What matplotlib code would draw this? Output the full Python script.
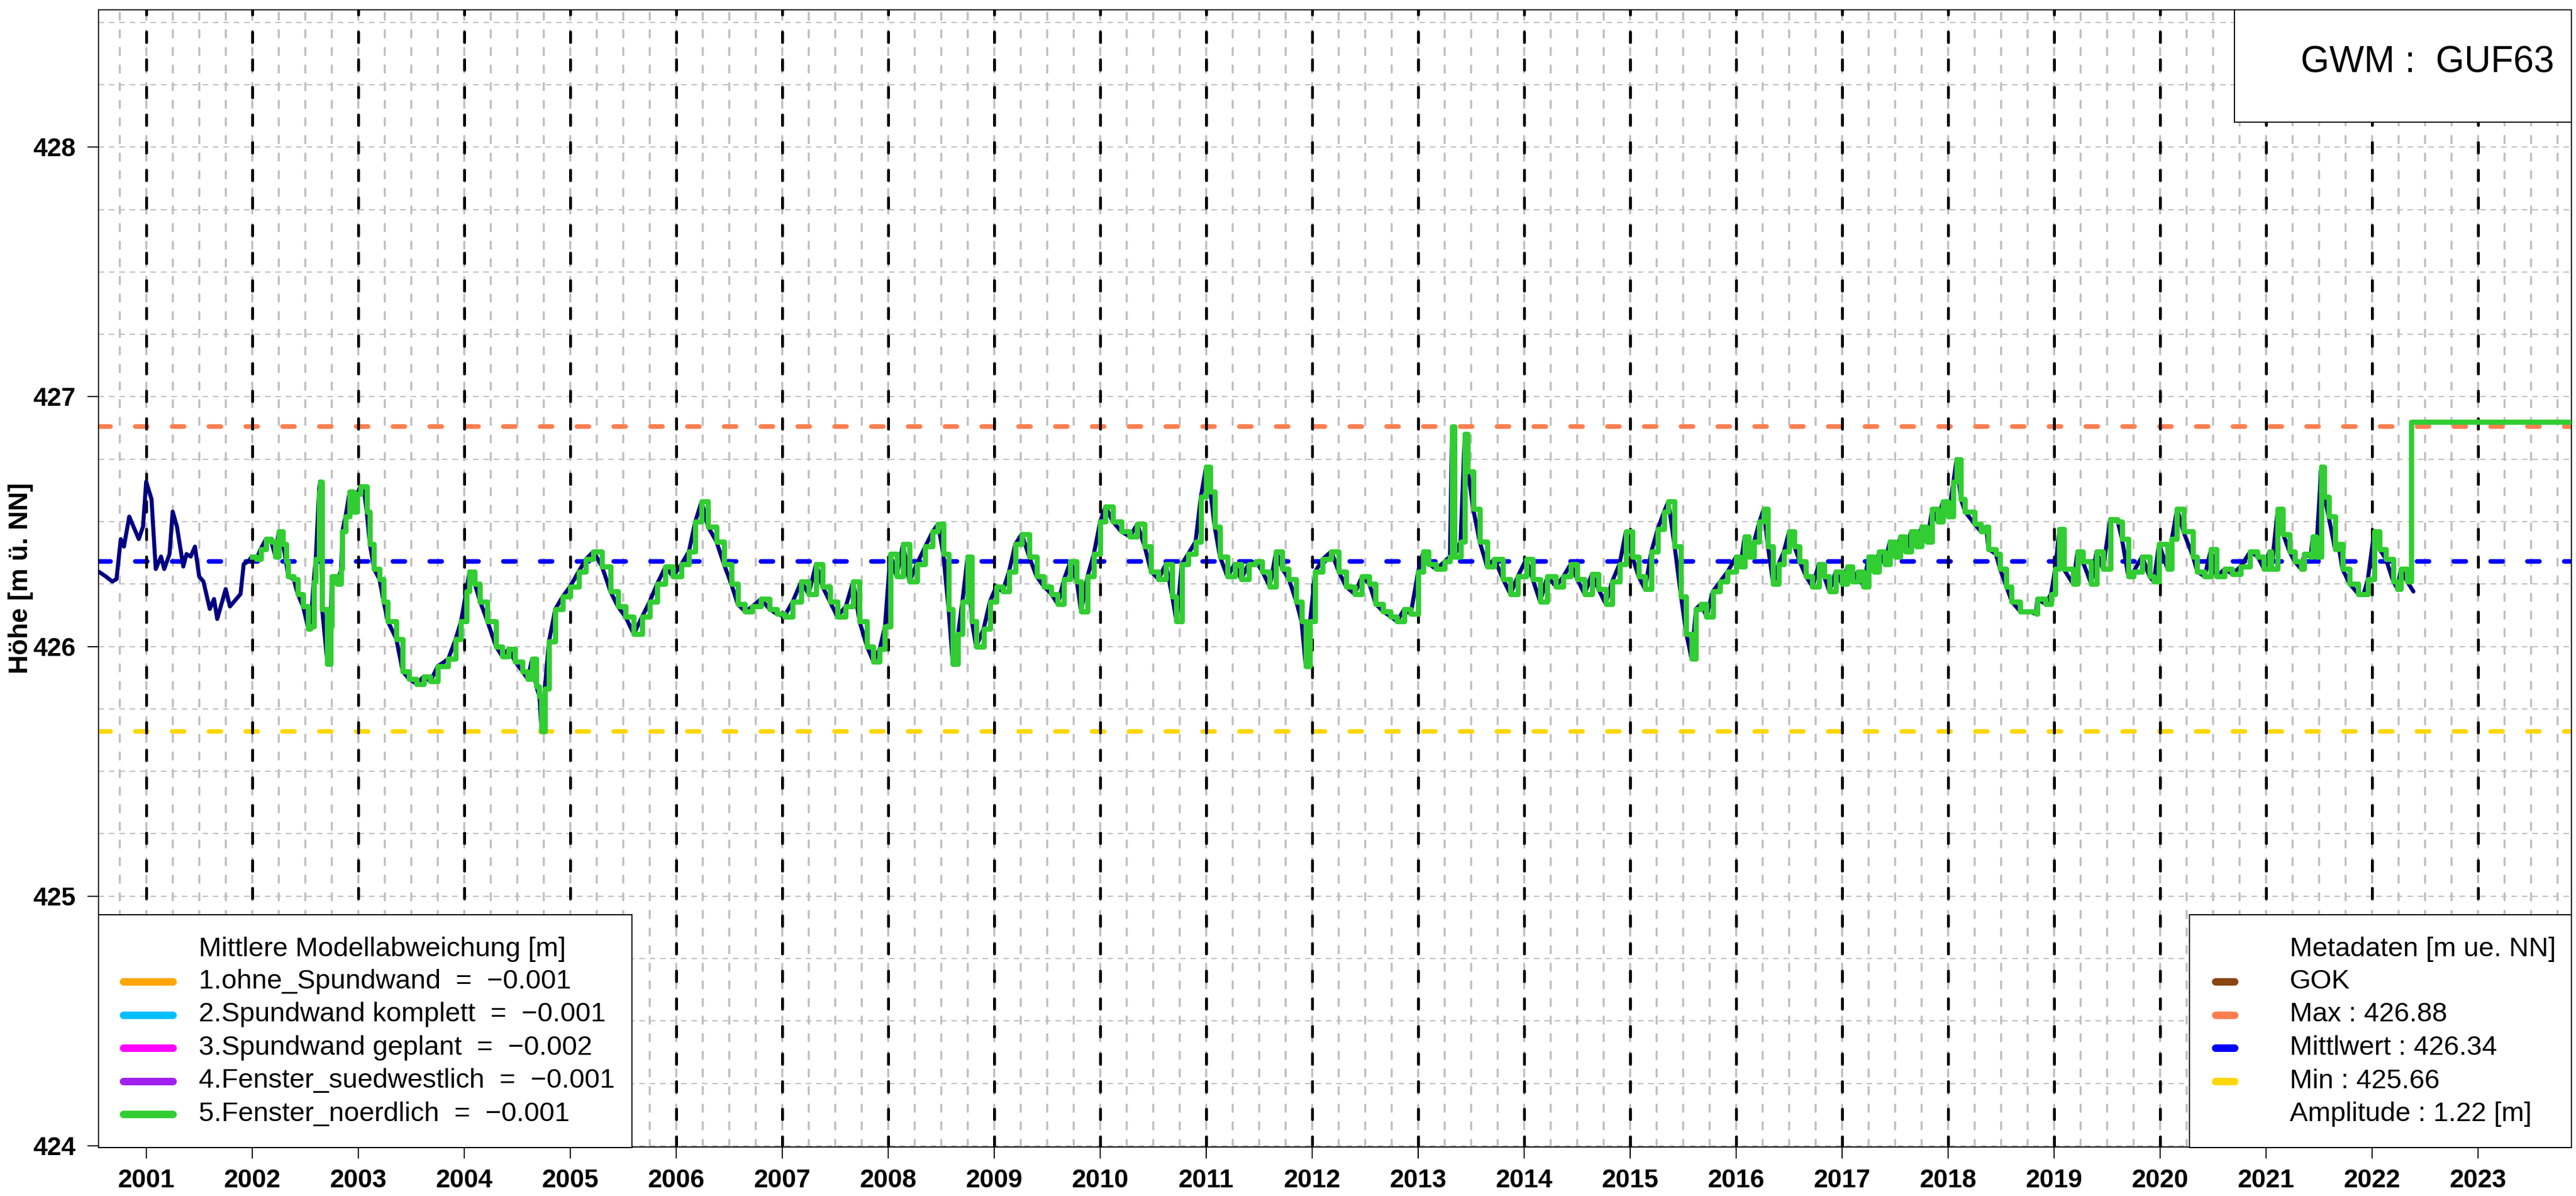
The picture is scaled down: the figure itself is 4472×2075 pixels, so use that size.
import matplotlib
matplotlib.use("Agg")
import matplotlib.pyplot as plt
from matplotlib.lines import Line2D
from matplotlib.patches import Rectangle
import numpy as np

plt.rcParams['font.family'] = ['Liberation Sans', 'DejaVu Sans']
plt.rcParams['lines.scale_dashes'] = False

# ---- data ----
t_obs = [2000.55, 2000.62, 2000.68, 2000.72, 2000.76, 2000.79, 2000.84, 2000.93, 2000.97,
         2001.00, 2001.05, 2001.09, 2001.14, 2001.17, 2001.22, 2001.25, 2001.29, 2001.35,
         2001.38, 2001.42, 2001.46, 2001.50, 2001.54, 2001.60, 2001.64, 2001.67, 2001.75,
         2001.79, 2001.89, 2001.92, 2001.96, 2002.00, 2002.04, 2002.08, 2002.13, 2002.18,
         2002.22, 2002.25, 2002.29, 2002.32, 2002.34, 2002.39, 2002.43, 2002.48, 2002.53,
         2002.55, 2002.58, 2002.60, 2002.63, 2002.64, 2002.66, 2002.71, 2002.74, 2002.75,
         2002.80, 2002.84, 2002.85, 2002.88, 2002.92, 2002.96, 2002.99, 2003.02, 2003.05,
         2003.08, 2003.11, 2003.15, 2003.20, 2003.24, 2003.28, 2003.36, 2003.42, 2003.48,
         2003.55, 2003.62, 2003.68, 2003.75, 2003.85, 2003.92, 2003.97, 2004.02, 2004.05,
         2004.10, 2004.15, 2004.22, 2004.30, 2004.36, 2004.42, 2004.48, 2004.55, 2004.60,
         2004.64, 2004.68, 2004.71, 2004.73, 2004.76, 2004.80, 2004.86, 2004.93, 2005.00,
         2005.08, 2005.15, 2005.22, 2005.30, 2005.38, 2005.45, 2005.52, 2005.60, 2005.68,
         2005.75, 2005.82, 2005.90, 2005.97, 2006.05, 2006.12, 2006.18, 2006.24, 2006.30,
         2006.38, 2006.45, 2006.52, 2006.58, 2006.65, 2006.72, 2006.80, 2006.88, 2006.95,
         2007.02, 2007.10, 2007.18, 2007.25, 2007.32, 2007.38, 2007.45, 2007.52, 2007.60,
         2007.67, 2007.73, 2007.80, 2007.86, 2007.92, 2007.97, 2008.02, 2008.08, 2008.14,
         2008.20, 2008.27, 2008.35, 2008.42, 2008.47, 2008.52, 2008.57, 2008.61, 2008.66,
         2008.70, 2008.75, 2008.79, 2008.83, 2008.90, 2008.96, 2009.02, 2009.08, 2009.14,
         2009.20, 2009.26, 2009.33, 2009.40, 2009.47, 2009.54, 2009.60, 2009.66, 2009.72,
         2009.78, 2009.82, 2009.88, 2009.94, 2010.00, 2010.05, 2010.12, 2010.20, 2010.28,
         2010.35, 2010.42, 2010.48, 2010.55, 2010.62, 2010.68, 2010.72, 2010.77, 2010.83,
         2010.90, 2010.95, 2011.00, 2011.04, 2011.08, 2011.13, 2011.20, 2011.27, 2011.33,
         2011.40, 2011.47, 2011.53, 2011.60, 2011.66, 2011.72, 2011.78, 2011.85, 2011.90,
         2011.94, 2011.98, 2012.03, 2012.10, 2012.18, 2012.25, 2012.32, 2012.40, 2012.47,
         2012.54, 2012.60, 2012.67, 2012.74, 2012.80, 2012.87, 2012.93, 2013.00, 2013.05,
         2013.10, 2013.17, 2013.25, 2013.30, 2013.32, 2013.34, 2013.40, 2013.44, 2013.47,
         2013.52, 2013.58, 2013.65, 2013.72, 2013.80, 2013.87, 2013.94, 2014.02, 2014.08,
         2014.15, 2014.22, 2014.30, 2014.37, 2014.44, 2014.50, 2014.57, 2014.64, 2014.70,
         2014.77, 2014.83, 2014.90, 2014.96, 2015.02, 2015.08, 2015.14, 2015.20, 2015.26,
         2015.32, 2015.36, 2015.42, 2015.48, 2015.53, 2015.58, 2015.62, 2015.67, 2015.72,
         2015.78, 2015.85, 2015.92, 2016.00, 2016.04, 2016.08, 2016.12, 2016.17, 2016.22,
         2016.26, 2016.30, 2016.35, 2016.40, 2016.45, 2016.50, 2016.55, 2016.60, 2016.66,
         2016.72, 2016.78, 2016.83, 2016.88, 2016.94, 2017.00, 2017.05, 2017.10, 2017.15,
         2017.20, 2017.25, 2017.30, 2017.35, 2017.40, 2017.45, 2017.50, 2017.55, 2017.60,
         2017.65, 2017.70, 2017.75, 2017.80, 2017.85, 2017.90, 2017.95, 2018.00, 2018.05,
         2018.08, 2018.12, 2018.16, 2018.25, 2018.31, 2018.36, 2018.38, 2018.45, 2018.49,
         2018.55, 2018.60, 2018.68, 2018.76, 2018.83, 2018.84, 2018.92, 2018.97, 2019.01,
         2019.05, 2019.09, 2019.18, 2019.22, 2019.27, 2019.35, 2019.40, 2019.46, 2019.53,
         2019.60, 2019.64, 2019.70, 2019.75, 2019.83, 2019.90, 2019.94, 2019.99, 2020.07,
         2020.11, 2020.16, 2020.22, 2020.31, 2020.35, 2020.42, 2020.48, 2020.53, 2020.61,
         2020.68, 2020.76, 2020.85, 2020.92, 2020.98, 2021.03, 2021.05, 2021.11, 2021.16,
         2021.22, 2021.27, 2021.33, 2021.36, 2021.42, 2021.44, 2021.47, 2021.52, 2021.55,
         2021.59, 2021.65, 2021.68, 2021.72, 2021.79, 2021.87, 2021.92, 2021.96, 2022.02,
         2022.07, 2022.13, 2022.20, 2022.24, 2022.27, 2022.33, 2022.39]

h_obs = [426.30, 426.28, 426.26, 426.27, 426.43, 426.40, 426.52, 426.43, 426.48,
         426.66, 426.59, 426.31, 426.36, 426.31, 426.37, 426.54, 426.48, 426.32,
         426.37, 426.36, 426.40, 426.28, 426.26, 426.15, 426.19, 426.11, 426.23,
         426.16, 426.21, 426.33, 426.34, 426.36, 426.35, 426.39, 426.43, 426.42,
         426.36, 426.46, 426.41, 426.34, 426.28, 426.27, 426.21, 426.16, 426.07,
         426.08, 426.26, 426.35, 426.62, 426.66, 426.15, 425.93, 426.08, 426.28,
         426.25, 426.31, 426.46, 426.52, 426.62, 426.54, 426.61, 426.64, 426.64,
         426.54, 426.41, 426.31, 426.27, 426.18, 426.10, 426.03, 425.90, 425.87,
         425.85, 425.88, 425.86, 425.92, 425.95, 426.03, 426.10, 426.22, 426.30,
         426.25, 426.18, 426.10, 426.00, 425.96, 425.99, 425.94, 425.90, 425.87,
         425.95, 425.84, 425.80, 425.66, 425.83, 426.02, 426.15, 426.20, 426.24,
         426.30, 426.35, 426.38, 426.32, 426.22, 426.16, 426.12, 426.05, 426.12,
         426.18, 426.25, 426.32, 426.28, 426.33, 426.38, 426.50, 426.58, 426.48,
         426.42, 426.33, 426.25, 426.17, 426.14, 426.16, 426.19, 426.15, 426.13,
         426.12, 426.18, 426.26, 426.21, 426.33, 426.24, 426.18, 426.12, 426.16,
         426.26, 426.10, 426.00, 425.94, 425.99, 426.08, 426.37, 426.28, 426.41,
         426.26, 426.33, 426.40, 426.46, 426.49, 426.37, 426.15, 425.93, 426.05,
         426.18, 426.36, 426.10, 426.00, 426.07, 426.18, 426.24, 426.22, 426.30,
         426.41, 426.45, 426.36, 426.28, 426.24, 426.21, 426.17, 426.27, 426.34,
         426.26, 426.14, 426.28, 426.37, 426.50, 426.56, 426.50, 426.46, 426.44,
         426.49, 426.40, 426.30, 426.27, 426.33, 426.20, 426.10, 426.33, 426.37,
         426.42, 426.60, 426.72, 426.62, 426.48, 426.36, 426.28, 426.33, 426.27,
         426.33, 426.34, 426.30, 426.24, 426.38, 426.31, 426.27, 426.18, 426.10,
         425.92, 426.10, 426.30, 426.35, 426.38, 426.30, 426.24, 426.21, 426.28,
         426.25, 426.17, 426.14, 426.12, 426.10, 426.15, 426.13, 426.30, 426.38,
         426.33, 426.31, 426.34, 426.36, 426.88, 426.36, 426.42, 426.85, 426.70,
         426.55, 426.42, 426.32, 426.35, 426.27, 426.21, 426.28, 426.35, 426.27,
         426.18, 426.28, 426.24, 426.28, 426.33, 426.27, 426.21, 426.29, 426.23,
         426.17, 426.26, 426.33, 426.46, 426.36, 426.28, 426.23, 426.38, 426.47,
         426.54, 426.58, 426.40, 426.20, 426.05, 425.95, 426.15, 426.17, 426.12,
         426.22, 426.26, 426.30, 426.36, 426.32, 426.44, 426.36, 426.42, 426.50,
         426.55, 426.40, 426.25, 426.33, 426.38, 426.46, 426.40, 426.34, 426.28,
         426.24, 426.33, 426.28, 426.22, 426.30, 426.25, 426.32, 426.26, 426.30,
         426.24, 426.36, 426.30, 426.38, 426.33, 426.42, 426.36, 426.44, 426.38,
         426.46, 426.40, 426.48, 426.42, 426.55, 426.50, 426.58, 426.52, 426.66,
         426.75, 426.59, 426.54, 426.49, 426.46, 426.48, 426.39, 426.37, 426.31,
         426.24, 426.18, 426.14, 426.14, 426.13, 426.19, 426.17, 426.21, 426.31,
         426.47, 426.31, 426.25, 426.38, 426.34, 426.25, 426.38, 426.31, 426.51,
         426.50, 426.43, 426.28, 426.30, 426.36, 426.28, 426.26, 426.41, 426.31,
         426.43, 426.55, 426.46, 426.36, 426.30, 426.28, 426.39, 426.28, 426.31,
         426.29, 426.32, 426.38, 426.36, 426.31, 426.38, 426.31, 426.55, 426.45,
         426.38, 426.34, 426.31, 426.37, 426.36, 426.44, 426.36, 426.72, 426.60,
         426.52, 426.39, 426.41, 426.31, 426.25, 426.21, 426.21, 426.27, 426.46,
         426.39, 426.35, 426.26, 426.23, 426.31, 426.26, 426.22]

# simulation 5 (green) follows the observations from 2002 on, then jumps
sim_start, sim_end = 2002.0, 2022.33
t_tail = [2022.37, 2023.95]
h_tail = [426.90, 426.90]

h_max, h_mean, h_min = 426.88, 426.34, 425.66
amplitude = 1.22

years = list(range(2001, 2024))
y_ticks = [424, 425, 426, 427, 428]

model_names = ["1.ohne_Spundwand", "2.Spundwand komplett", "3.Spundwand geplant",
               "4.Fenster_suedwestlich", "5.Fenster_noerdlich"]
model_dev = [-0.001, -0.001, -0.002, -0.001, -0.001]
model_colors = ["#FFA500", "#00BFFF", "#FF00FF", "#A020F0", "#32CD32"]

# ---- figure ----
W, H = 4472, 2075
PT = 0.72  # px -> pt at dpi 100
fig = plt.figure(figsize=(W / 100, H / 100), dpi=100)
ax = fig.add_axes([171 / W, 1 - 1990 / H, (4464 - 171) / W, (1990 - 17) / H])
ax.set_xlim(2000.55, 2023.88)
ax.set_ylim(423.995, 428.55)

# grid
for y in np.arange(424, 428.51, 0.25):
    ax.axhline(y, color="#BEBEBE", lw=2 * PT, linestyle=(0, (7, 6)), zorder=1)
for x in np.arange(2000.75, 2023.76, 0.25):
    ax.axvline(x, color="#BEBEBE", lw=3.5 * PT, linestyle=(0, (9, 13)),
               dash_capstyle="round", zorder=1.5)
for val, col in [(h_max, "#FF7F50"), (h_mean, "#0000FF"), (h_min, "#FFD700")]:
    ax.axhline(val, color=col, lw=8 * PT, linestyle=(0, (15, 31)),
               dash_capstyle="round", zorder=2)
for x in years:
    ax.axvline(x, color="black", lw=5 * PT, linestyle=(0, (13, 21.5)),
               dash_capstyle="round", zorder=3)

# series
t_obs_a = np.array(t_obs)
h_obs_a = np.array(h_obs)
ax.plot(t_obs_a, h_obs_a, color="#000080", lw=7 * PT, solid_joinstyle="round",
        solid_capstyle="round", zorder=4)
m = (t_obs_a >= sim_start) & (t_obs_a <= sim_end)
t_sim = np.concatenate([t_obs_a[m], t_tail])
h_sim = np.concatenate([h_obs_a[m], h_tail])
ax.step(t_sim, h_sim, where="post", color="#32CD32", lw=9 * PT, zorder=5)

# axes styling
for s in ax.spines.values():
    s.set_linewidth(2 * PT)
ax.set_xticks(years)
ax.set_xticklabels([str(y) for y in years], fontsize=32, fontweight="bold")
ax.set_yticks(y_ticks)
ax.set_yticklabels([str(y) for y in y_ticks], fontsize=32, fontweight="bold")
ax.tick_params(axis="x", length=20 * PT, width=2 * PT, pad=18 * PT)
ax.tick_params(axis="y", length=19 * PT, width=2 * PT, pad=21 * PT)

fig.text(36 / W, 1 - 1003 / H, "Höhe [m ü. NN]", rotation=90, ha="center", va="center",
         fontsize=33, fontweight="bold")


def fx(x):
    return x / W


def fy(y):
    return 1 - y / H


def box(x0, y0, x1, y1):
    fig.add_artist(Rectangle((fx(x0), fy(y1)), fx(x1) - fx(x0), fy(y0) - fy(y1),
                             transform=fig.transFigure, facecolor="white",
                             edgecolor="black", lw=2 * PT, zorder=10))


# station box
box(3879, 17, 4464, 212)
fig.text(fx(4214), fy(108), "GWM :  GUF63", ha="center", va="center", fontsize=46, zorder=11)

row_y = [1703, 1760.5, 1818, 1875.5, 1933]

# model legend
box(171, 1587, 1097, 1991)
fig.text(fx(345), fy(1647), "Mittlere Modellabweichung [m]", ha="left", va="center",
         fontsize=34, zorder=11)
for i, (name, dev, col) in enumerate(zip(model_names, model_dev, model_colors)):
    fig.add_artist(Line2D([fx(214), fx(300)], [fy(row_y[i])] * 2, transform=fig.transFigure,
                          color=col, lw=13 * PT, solid_capstyle="round", zorder=11))
    fig.text(fx(345), fy(row_y[i]), f"{name}  =  {dev:.3f}".replace("-", "\u2212"),
             ha="left", va="center", fontsize=34, zorder=11)

# metadata legend
box(3801, 1587, 4464, 1991)
fig.text(fx(3975), fy(1647), "Metadaten [m ue. NN]", ha="left", va="center", fontsize=34, zorder=11)
meta_labels = ["GOK", f"Max : {h_max:.2f}", f"Mittlwert : {h_mean:.2f}",
               f"Min : {h_min:.2f}", f"Amplitude : {amplitude:.2f} [m]"]
meta_colors = ["#8B4513", "#FF7F50", "#0000FF", "#FFD700", None]
for i, (lab, col) in enumerate(zip(meta_labels, meta_colors)):
    if col is not None:
        fig.add_artist(Line2D([fx(3846), fx(3879)], [fy(row_y[i])] * 2, transform=fig.transFigure,
                              color=col, lw=13 * PT, solid_capstyle="round", zorder=11))
    fig.text(fx(3975), fy(row_y[i]), lab, ha="left", va="center", fontsize=34, zorder=11)

fig.savefig("out.png", dpi=100)
